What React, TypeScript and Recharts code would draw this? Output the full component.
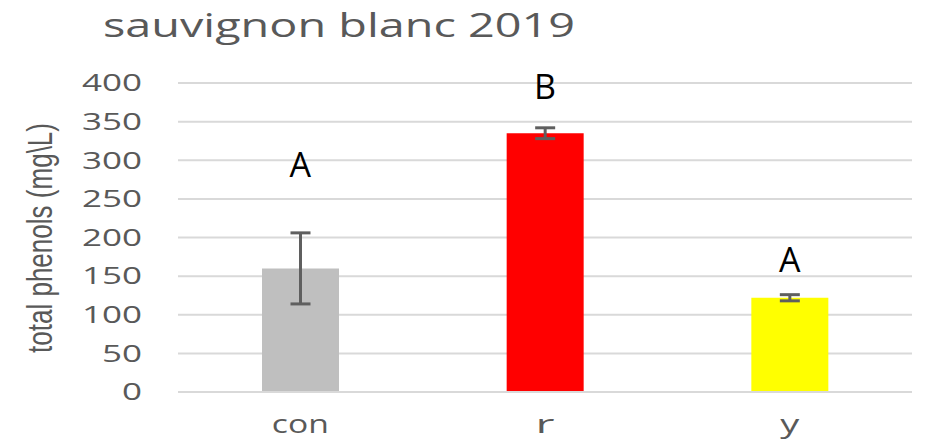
import React from 'react'
import { ComposedChart, Bar, ErrorBar, Scatter, XAxis, YAxis, CartesianGrid } from 'recharts'

// values
const categories = ['con', 'r', 'y']
const means = [160, 335, 122]
const errors = [46, 7, 4]
const colors = ['#bfbfbf', '#ff0000', '#ffff00']
const letters = ['A', 'B', 'A']
const letterPos = [278, 379, 155]
const yTicks = [0, 50, 100, 150, 200, 250, 300, 350, 400]

const data = categories.map((cat, i) => ({
  cat,
  mean: means[i],
  err: errors[i],
  letterPos: letterPos[i],
  letter: letters[i],
  fill: colors[i],
}))

const GREY = '#595959'

const YTick = (props: any) => {
  const { y, payload } = props
  const s = String(payload.value)
  return (
    <text
      x={142}
      y={y}
      dy="0.36em"
      textAnchor="end"
      fill={GREY}
      fontSize={23}
      fontFamily="Open Sans"
      textLength={s.length * 20}
      lengthAdjust="spacingAndGlyphs"
    >
      {s}
    </text>
  )
}

const XTick = (props: any) => {
  const { x, payload } = props
  const s = String(payload.value)
  return (
    <text
      x={x}
      y={433}
      textAnchor="middle"
      fill={GREY}
      fontSize={25}
      fontFamily="Open Sans"
      textLength={s.length * 19}
      lengthAdjust="spacingAndGlyphs"
    >
      {s}
    </text>
  )
}

const LetterShape = (props: any) => {
  const { cx, cy, payload } = props
  return (
    <text x={cx} y={cy} textAnchor="middle" fill="#000" fontSize={34} fontFamily="Open Sans">
      {payload.letter}
    </text>
  )
}

export default function App() {
  return (
    <div style={{ position: 'absolute', left: 0, top: 0, width: 935, height: 440, background: '#fff' }}>
      <ComposedChart width={935} height={440} data={data} margin={{ top: 83, right: 23, bottom: 0, left: 0 }}>
        <CartesianGrid vertical={false} stroke="#d9d9d9" strokeWidth={2} />
        <XAxis
          dataKey="cat"
          height={48}
          axisLine={{ stroke: '#d9d9d9', strokeWidth: 2 }}
          tickLine={false}
          tick={<XTick />}
          interval={0}
        />
        <YAxis
          width={178}
          domain={[0, 400]}
          ticks={yTicks}
          axisLine={false}
          tickLine={false}
          tick={<YTick />}
          interval={0}
        />
        <Bar dataKey="mean" barSize={77} isAnimationActive={false}>
          <ErrorBar dataKey="err" width={10} strokeWidth={3} stroke="#5f5f5f" />
        </Bar>
        <Scatter dataKey="letterPos" shape={<LetterShape />} isAnimationActive={false} />
      </ComposedChart>
      <svg width={935} height={440} style={{ position: 'absolute', left: 0, top: 0, pointerEvents: 'none' }}>
        <text
          x={103}
          y={37}
          fill={GREY}
          fontSize={33}
          fontFamily="Open Sans"
          textLength={472}
          lengthAdjust="spacingAndGlyphs"
        >
          sauvignon blanc 2019
        </text>
        <text
          transform="translate(52, 238) scale(1.35, 1) rotate(-90)"
          textAnchor="middle"
          fill={GREY}
          fontSize={26}
          fontFamily="Liberation Sans Narrow, Liberation Sans, Arial"
          textLength={230}
          lengthAdjust="spacingAndGlyphs"
        >
          total phenols (mg\L)
        </text>
      </svg>
    </div>
  )
}
